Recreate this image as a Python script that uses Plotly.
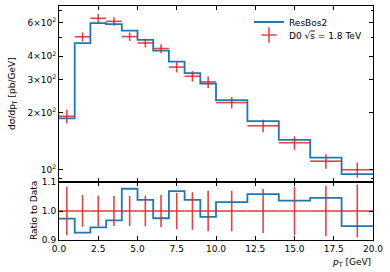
import plotly.graph_objects as go

# ---- data ----
edges = [0, 1, 2, 3, 4, 5, 6, 7, 8, 9, 10, 12, 14, 16, 18, 20]
resbos = [187, 469, 599, 592, 547, 488, 428, 374, 325, 286, 234, 181, 144, 116, 94.8]
d0 = [192, 507, 635, 612, 508, 470, 439, 350, 313, 292, 227, 171, 139, 111, 100]
rel_err = [0.084, 0.055, 0.053, 0.052, 0.052, 0.053, 0.055, 0.063, 0.065, 0.07,
           0.07, 0.076, 0.083, 0.087, 0.091]
x_ticks = [0, 2.5, 5, 7.5, 10, 12.5, 15, 17.5, 20]
x_tick_labels = ["0.0", "2.5", "5.0", "7.5", "10.0", "12.5", "15.0", "17.5", "20.0"]
y_ticks = [100, 200, 300, 400, 600]
y_tick_labels = ["10<sup>2</sup>", "2×10<sup>2</sup>", "3×10<sup>2</sup>",
                 "4×10<sup>2</sup>", "6×10<sup>2</sup>"]
y_minor_ticks = [90, 500, 700]
r_ticks = [0.9, 1.0, 1.1]
r_tick_labels = ["0.9", "1.0", "1.1"]

centers = [(a + b) / 2 for a, b in zip(edges[:-1], edges[1:])]
half_w = [(b - a) / 2 for a, b in zip(edges[:-1], edges[1:])]
abs_err = [e * v for e, v in zip(rel_err, d0)]
ratio = [m / d for m, d in zip(resbos, d0)]

BLUE = "#1f77b4"
RED = "rgba(214,39,40,0.85)"
FONT = "DejaVu Sans"

fig = go.Figure()

# top panel
fig.add_trace(go.Scatter(x=edges, y=resbos + [resbos[-1]], mode="lines",
                         line=dict(color=BLUE, width=1.8, shape="hv"),
                         name="ResBos2", legend="legend", xaxis="x", yaxis="y"))
fig.add_trace(go.Scatter(x=centers, y=d0, mode="markers",
                         marker=dict(size=0.1, color=RED),
                         error_x=dict(type="data", array=half_w, color=RED, thickness=1.6, width=0),
                         error_y=dict(type="data", array=abs_err, color=RED, thickness=1.6, width=0),
                         showlegend=False, xaxis="x", yaxis="y"))
fig.add_trace(go.Scatter(x=[None], y=[None], mode="markers",
                         marker=dict(symbol="cross-thin", size=11,
                                     line=dict(color=RED, width=1.6), color=RED),
                         name="D0 √<span style='text-decoration:overline'>s</span> = 1.8 TeV",
                         legend="legend2", xaxis="x", yaxis="y"))

# ratio panel
fig.add_trace(go.Scatter(x=edges, y=ratio + [ratio[-1]], mode="lines",
                         line=dict(color=BLUE, width=1.8, shape="hv"),
                         showlegend=False, xaxis="x2", yaxis="y2"))
fig.add_trace(go.Scatter(x=centers, y=[1.0] * len(centers), mode="markers",
                         marker=dict(size=0.1, color=RED),
                         error_x=dict(type="data", array=half_w, color=RED, thickness=1.6, width=0),
                         error_y=dict(type="data", array=rel_err, color=RED, thickness=1.6, width=0),
                         showlegend=False, xaxis="x2", yaxis="y2"))

split = 58 / 234
axis_common = dict(showline=True, linecolor="black", linewidth=1, mirror="ticks",
                   ticks="inside", ticklen=4, tickwidth=1, tickcolor="black",
                   showgrid=False, zeroline=False, automargin=False,
                   tickfont=dict(family=FONT, size=9, color="black"))

leg_common = dict(xanchor="left", yanchor="middle", bgcolor="rgba(0,0,0,0)",
                  font=dict(family=FONT, size=9, color="black"), itemwidth=30)

fig.update_layout(
    width=390, height=272,
    margin=dict(l=59, r=17, t=6, b=32),
    paper_bgcolor="white", plot_bgcolor="white",
    font=dict(family=FONT, size=9, color="black"),
    xaxis=dict(domain=[0, 1], range=[0, 20], anchor="y", tickvals=x_ticks,
               showticklabels=False, **axis_common),
    yaxis=dict(domain=[split, 1], type="log", range=[1.935, 2.868], anchor="x",
               tickvals=y_ticks, ticktext=y_tick_labels,
               minor=dict(tickvals=y_minor_ticks, ticks="inside", ticklen=2.5,
                          tickcolor="black", showgrid=False),
               **axis_common),
    xaxis2=dict(domain=[0, 1], range=[0, 20], anchor="y2", tickvals=x_ticks,
                ticktext=x_tick_labels, **axis_common),
    yaxis2=dict(domain=[0, split], range=[0.8999, 1.1001], anchor="x2",
                tickvals=r_ticks, ticktext=r_tick_labels, **axis_common),
    legend=dict(x=(249 - 59) / 314, y=1 - (22 - 6) / 234, **leg_common),
    legend2=dict(x=(249 - 59) / 314, y=1 - (35 - 6) / 234, **leg_common),
    showlegend=True,
)

fig.add_annotation(text="dσ/dp<sub>T</sub> [pb/GeV]", xref="paper", yref="paper",
                   x=(12 - 59) / 314, y=1 - (94 - 6) / 234, textangle=-90,
                   showarrow=False, font=dict(family=FONT, size=9),
                   xanchor="center", yanchor="middle")
fig.add_annotation(text="Ratio to Data", xref="paper", yref="paper",
                   x=(34 - 59) / 314, y=(240 - 211) / 234, textangle=-90,
                   showarrow=False, font=dict(family=FONT, size=9),
                   xanchor="center", yanchor="middle")
fig.add_annotation(text="<i>p</i><sub>T</sub> [GeV]", xref="paper", yref="paper",
                   x=1, y=-(262 - 240) / 234, showarrow=False,
                   font=dict(family=FONT, size=9), xanchor="right", yanchor="middle")

fig.write_html("out.html", config={"displayModeBar": False},
               post_script="document.body.style.margin='0';")
